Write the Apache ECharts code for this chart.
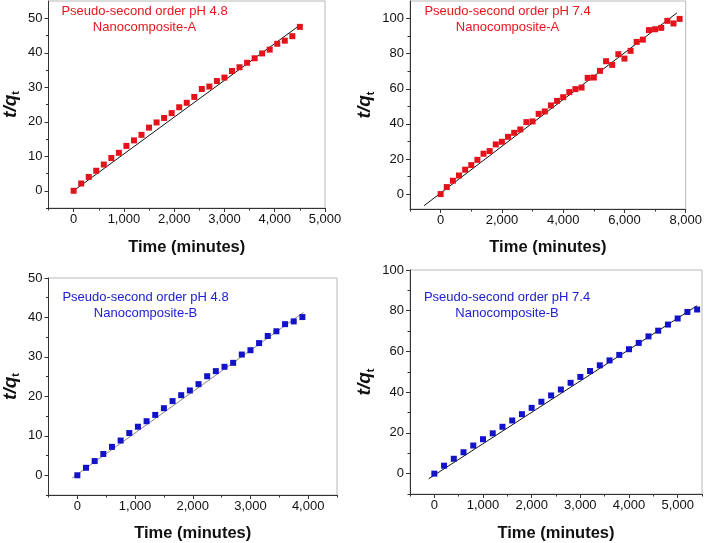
<!DOCTYPE html>
<html><head><meta charset="utf-8">
<script src="https://cdn.jsdelivr.net/npm/echarts@6/dist/echarts.min.js"></script>
<style>html,body{margin:0;padding:0;background:#fff}#c{width:705px;height:543px}</style>
</head><body><div id="c"></div>
<script>
// ---------- DATA ----------
const timeA48 = [0,150,300,450,600,750,900,1050,1200,1350,1500,1650,1800,1950,2100,2250,2400,2550,2700,2850,3000,3150,3300,3450,3600,3750,3900,4050,4200,4350,4500];
const qA48 = [0,2.1,4.0,5.8,7.6,9.5,11.0,13.0,14.6,16.2,18.3,19.8,21.1,22.5,24.2,25.5,27.2,29.5,30.2,31.8,32.8,34.7,35.8,37.1,38.4,39.8,40.9,42.6,43.5,44.8,47.5];
const fitXA48 = [0, 4500];
const fitYA48 = [0, 48.0];

const timeA74 = [0,200,400,600,800,1000,1200,1400,1600,1800,2000,2200,2400,2600,2800,3000,3200,3400,3600,3800,4000,4200,4400,4600,4800,5000,5200,5400,5600,5800,6000,6200,6400,6600,6800,7000,7200,7400,7600,7800];
const qA74 = [0,4.0,7.6,10.6,13.9,16.5,19.5,23.0,24.5,28.3,29.8,32.6,34.9,36.8,41.0,41.4,45.7,47.1,50.5,53.1,55.2,58.1,59.8,60.7,66.2,66.4,70.2,75.7,73.6,79.7,77.2,81.6,86.7,88.0,93.4,93.9,94.7,98.7,97.2,99.8];
const fitXA74 = [-540, 7710];
const fitYA74 = [-6.6, 103.2];

const timeB48 = [0,150,300,450,600,750,900,1050,1200,1350,1500,1650,1800,1950,2100,2250,2400,2550,2700,2850,3000,3150,3300,3450,3600,3750,3900];
const qB48 = [0,1.9,3.6,5.4,7.2,8.8,10.7,12.3,13.7,15.3,17.0,18.8,20.3,21.5,23.1,25.1,26.4,27.5,28.5,30.6,31.7,33.5,35.3,36.5,38.3,39.0,40.1];
const fitXB48 = [-90, 3920];
const fitYB48 = [-0.7, 41.3];

const timeB74 = [0,200,400,600,800,1000,1200,1400,1600,1800,2000,2200,2400,2600,2800,3000,3200,3400,3600,3800,4000,4200,4400,4600,4800,5000,5200,5400];
const qB74 = [0,3.9,7.3,10.5,13.8,16.9,19.8,23.0,26.1,29.2,32.3,35.3,38.4,41.3,44.6,47.5,50.4,53.2,55.6,58.3,61.1,64.2,67.4,70.2,73.2,76.2,79.4,80.6];
const fitXB74 = [-116, 5400];
const fitYB74 = [-2.5, 82.5];

// tick values
const xTicksA48 = [0,1000,2000,3000,4000,5000];
const xMinorA48 = [-500,500,1500,2500,3500,4500];
const yTicksA48 = [0,10,20,30,40,50];
const yMinorA48 = [-5,5,15,25,35,45];

const xTicksA74 = [0,2000,4000,6000,8000];
const xMinorA74 = [-1000,1000,3000,5000,7000];
const yTicksA74 = [0,20,40,60,80,100];
const yMinorA74 = [10,30,50,70,90];

const xTicksB48 = [0,1000,2000,3000,4000];
const xMinorB48 = [-500,500,1500,2500,3500,4500];
const yTicksB48 = [0,10,20,30,40,50];
const yMinorB48 = [-5,5,15,25,35,45];

const xTicksB74 = [0,1000,2000,3000,4000,5000];
const xMinorB74 = [-500,500,1500,2500,3500,4500,5500];
const yTicksB74 = [0,20,40,60,80,100];
const yMinorB74 = [-10,10,30,50,70,90];

// texts
const xTitle = 'Time (minutes)';
const labelA48 = 'Pseudo-second order pH 4.8\nNanocomposite-A';
const labelA74 = 'Pseudo-second order pH 7.4\nNanocomposite-A';
const labelB48 = 'Pseudo-second order pH 4.8\nNanocomposite-B';
const labelB74 = 'Pseudo-second order pH 7.4\nNanocomposite-B';

// ---------- BUILD ----------
const FONT = 'Liberation Sans, Arial, sans-serif';
const RED = '#e3121b', BLUE = '#1212c8';
const TXT_RED = '#e8161f', TXT_BLUE = '#2020d0';
const panels = [
  {grid:{left:44,top:1,width:281,height:207}, xr:[-500,5000], yr:[-5,55], xt:xTicksA48, xm:xMinorA48, yt:yTicksA48, ym:yMinorA48,
   x:timeA48, y:qA48, fx:fitXA48, fy:fitYA48, color:RED, tcolor:TXT_RED, lineColor:'#111', label:labelA48, lp:[144.5,3], xGap:31, yGap:27},
  {grid:{left:410,top:1,width:279,height:208}, xr:[-1000,8000], yr:[-8.5,110], xt:xTicksA74, xm:xMinorA74, yt:yTicksA74, ym:yMinorA74,
   x:timeA74, y:qA74, fx:fitXA74, fy:fitYA74, color:RED, tcolor:TXT_RED, lineColor:'#111', label:labelA74, lp:[507.5,3], xGap:30, yGap:34},
  {grid:{left:44,top:278,width:293,height:218}, xr:[-500,4500], yr:[-5,50], xt:xTicksB48, xm:xMinorB48, yt:yTicksB48, ym:yMinorB48,
   x:timeB48, y:qB48, fx:fitXB48, fy:fitYB48, color:BLUE, tcolor:TXT_BLUE, lineColor:'#888', label:labelB48, lp:[145.5,289], xGap:30, yGap:27},
  {grid:{left:410,top:270,width:292,height:225}, xr:[-500,5500], yr:[-10,100], xt:xTicksB74, xm:xMinorB74, yt:yTicksB74, ym:yMinorB74,
   x:timeB74, y:qB74, fx:fitXB74, fy:fitYB74, color:BLUE, tcolor:TXT_BLUE, lineColor:'#111', label:labelB74, lp:[507,289], xGap:31, yGap:34}
];

const fmt = v => String(v).replace(/\B(?=(\d{3})+(?!\d))/g, ',');
const AX = '#333';
const option = {animation:false, backgroundColor:'#fff', grid:[], xAxis:[], yAxis:[], series:[], graphic:[]};

panels.forEach((p, i) => {
  option.grid.push(Object.assign({show:true, borderColor:'#b8b8b8', borderWidth:1, backgroundColor:'transparent'}, p.grid));
  const xi = option.xAxis.length, yi = option.yAxis.length;
  option.xAxis.push({
    gridIndex:i, type:'value', min:p.xr[0], max:p.xr[1], position:'bottom',
    axisLine:{show:true, onZero:false, lineStyle:{color:AX, width:1}},
    axisTick:{show:true, inside:false, length:4, customValues:p.xt, lineStyle:{color:AX}},
    axisLabel:{customValues:p.xt, formatter:fmt, margin:5, fontSize:13, color:'#111', fontFamily:FONT},
    splitLine:{show:false},
    name:xTitle, nameLocation:'middle', nameGap:p.xGap,
    nameTextStyle:{fontSize:16.5, fontWeight:'bold', color:'#111', fontFamily:FONT}
  });
  option.xAxis.push({
    gridIndex:i, type:'value', min:p.xr[0], max:p.xr[1], position:'bottom',
    axisLine:{show:false, onZero:false},
    axisTick:{show:true, inside:false, length:2.5, customValues:p.xm, lineStyle:{color:AX}},
    axisLabel:{show:false}, splitLine:{show:false}
  });
  option.yAxis.push({
    gridIndex:i, type:'value', min:p.yr[0], max:p.yr[1], position:'left',
    axisLine:{show:true, onZero:false, lineStyle:{color:AX, width:1}},
    axisTick:{show:true, inside:false, length:4, customValues:p.yt, lineStyle:{color:AX}},
    axisLabel:{customValues:p.yt, margin:6, fontSize:13, color:'#111', fontFamily:FONT},
    splitLine:{show:false},
    name:'{a|t/q}{b|t}', nameLocation:'middle', nameGap:p.yGap, nameRotate:90,
    nameTextStyle:{color:'#111', rich:{
      a:{fontSize:19, fontWeight:'bold', fontStyle:'italic', fontFamily:FONT, color:'#111', lineHeight:22, verticalAlign:'middle'},
      b:{fontSize:11, fontWeight:'bold', fontFamily:FONT, color:'#111', lineHeight:11, verticalAlign:'bottom'}
    }}
  });
  option.yAxis.push({
    gridIndex:i, type:'value', min:p.yr[0], max:p.yr[1], position:'left',
    axisLine:{show:false, onZero:false},
    axisTick:{show:true, inside:false, length:2.5, customValues:p.ym, lineStyle:{color:AX}},
    axisLabel:{show:false}, splitLine:{show:false}
  });
  option.series.push({
    type:'line', xAxisIndex:xi, yAxisIndex:yi, z:1, silent:true,
    data:p.fx.map((v,k)=>[v, p.fy[k]]), showSymbol:false, symbol:'none',
    lineStyle:{color:p.lineColor, width:1}
  });
  option.series.push({
    type:'scatter', xAxisIndex:xi, yAxisIndex:yi, z:2,
    data:p.x.map((v,k)=>[v, p.y[k]]), symbol:'rect', symbolSize:6,
    itemStyle:{color:p.color, opacity:1}
  });
  option.graphic.push({
    type:'text', x:p.lp[0], y:p.lp[1], z:10,
    style:{text:p.label, fill:p.tcolor, font:'13px ' + FONT, textAlign:'center', textVerticalAlign:'top', lineHeight:16}
  });
});

const chart = echarts.init(document.getElementById('c'), null, {renderer:'canvas'});
chart.setOption(option);
</script>
</body></html>
